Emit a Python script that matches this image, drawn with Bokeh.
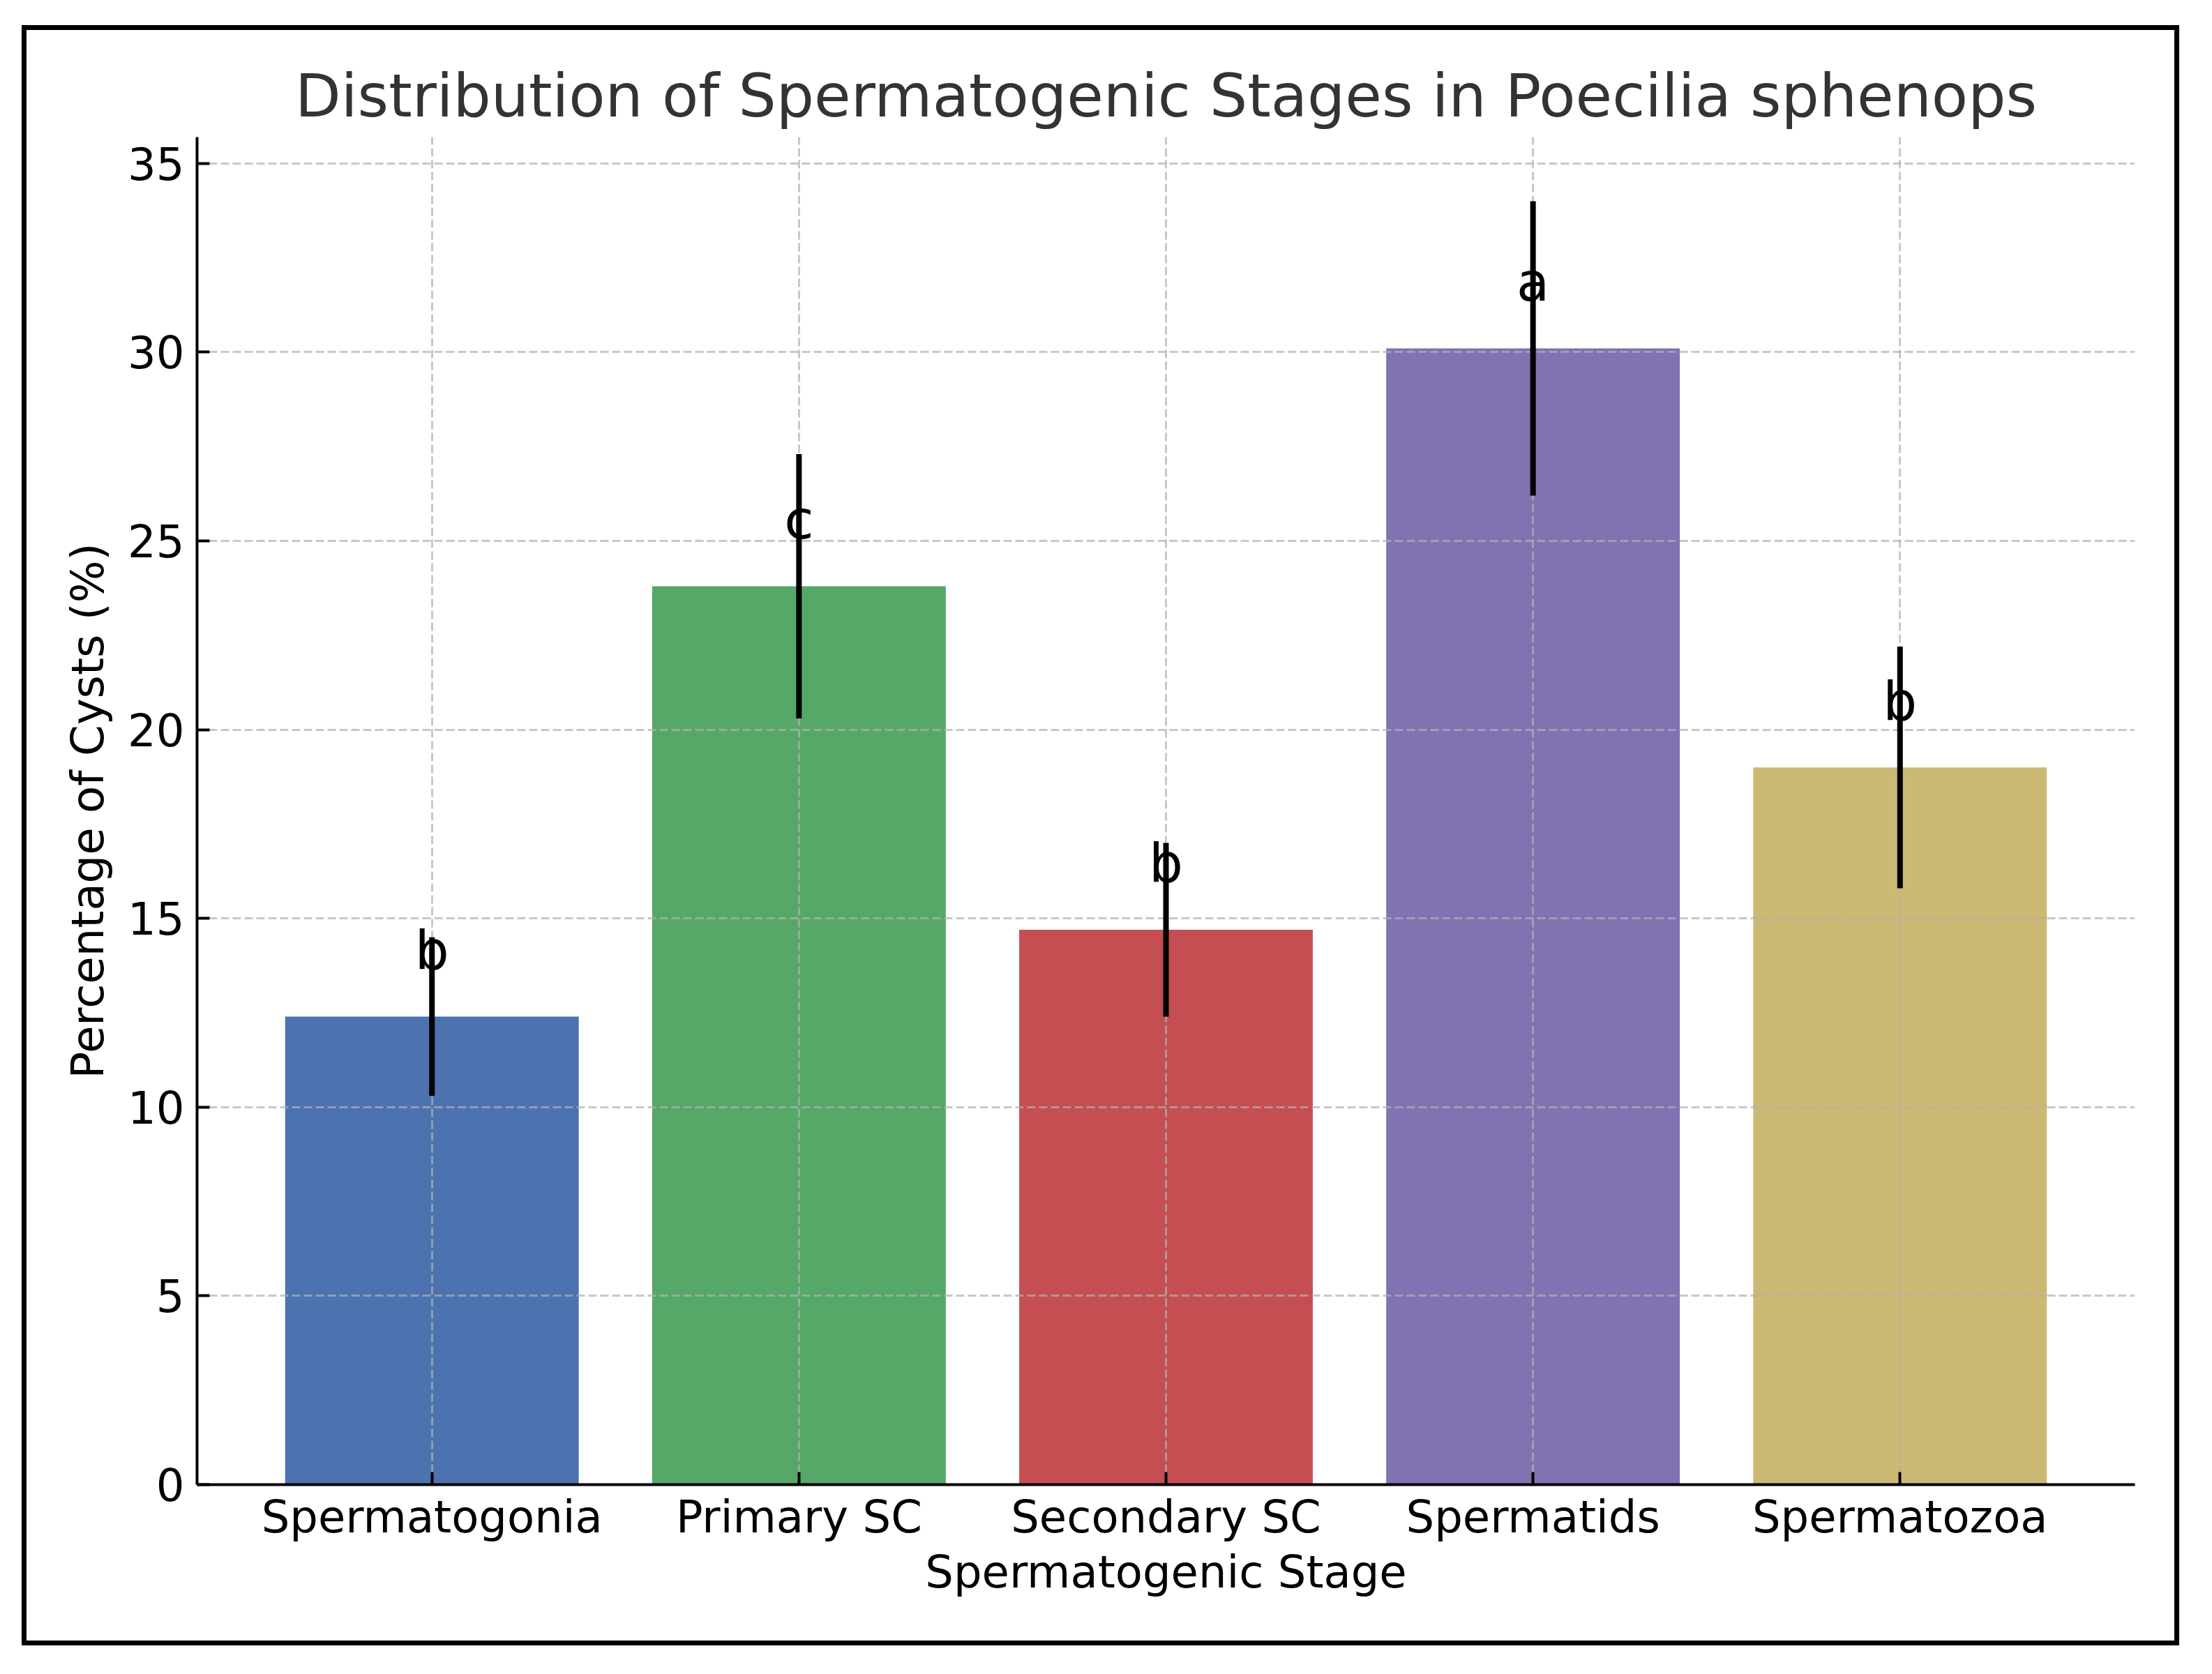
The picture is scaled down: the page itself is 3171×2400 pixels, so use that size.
from bokeh.plotting import figure
from bokeh.models import Range1d, FixedTicker, ColumnDataSource
from bokeh.core.properties import value
from bokeh.embed import file_html
from bokeh.resources import INLINE

# ---- data ----
stages = ["Spermatogonia", "Primary SC", "Secondary SC", "Spermatids", "Spermatozoa"]
percent = [12.4, 23.8, 14.7, 30.1, 19.0]
error = [2.1, 3.5, 2.3, 3.9, 3.2]
letters = ["b", "c", "b", "a", "b"]
colors = ["#4C72B0", "#55A868", "#C44E52", "#8172B2", "#CCB974"]
y_ticks = [0, 5, 10, 15, 20, 25, 30, 35]

FONT = "DejaVu Sans"
W, H = 3155, 2384

idx = list(range(len(stages)))
src = ColumnDataSource(dict(
    x=idx,
    top=percent,
    lo=[v - e for v, e in zip(percent, error)],
    hi=[v + e for v, e in zip(percent, error)],
    ly=[v + 1 for v in percent],
    letter=letters,
    color=colors,
))

ymax = max(v + e for v, e in zip(percent, error)) * 1.05
n = len(stages)
pad = 0.24

p = figure(width=W, height=H, output_backend="svg", toolbar_location=None,
           x_range=Range1d(-0.4 - pad, n - 1 + 0.4 + pad), y_range=Range1d(0, ymax),
           min_border_left=282, min_border_right=95, min_border_top=196, min_border_bottom=256,
           title="Distribution of Spermatogenic Stages in Poecilia sphenops")
p.outline_line_color = None
p.background_fill_color = "white"
p.border_fill_color = None

# outer black frame drawn as CSS background of the plot element
BX, BY, BW, BH, T = 31, 36, 3093, 2323, 7
p.styles = {
    "background-color": "white",
    "background-image": ", ".join(["linear-gradient(#000000, #000000)"] * 4),
    "background-position": f"{BX}px {BY}px, {BX}px {BY + BH - T}px, {BX}px {BY}px, {BX + BW - T}px {BY}px",
    "background-size": f"{BW}px {T}px, {BW}px {T}px, {T}px {BH}px, {T}px {BH}px",
    "background-repeat": "no-repeat",
}

p.title.align = "center"
p.title.text_font = FONT
p.title.text_font_size = "85.5px"
p.title.text_font_style = "normal"
p.title.text_color = "#333333"
p.title.standoff = 20

# bars (below grid)
p.vbar(x="x", top="top", bottom=0, width=0.8, fill_color="color", line_color=None,
       source=src, level="image")
# error bars
p.segment(x0="x", y0="lo", x1="x", y1="hi", line_width=8, line_color="black", source=src)
# significance letters
p.text(x="x", y="ly", text="letter", text_align="center", text_baseline="middle",
       y_offset=-41, text_font=value(FONT), text_font_size="77px", text_color="black",
       source=src)

# axes
p.xaxis.ticker = FixedTicker(ticks=idx)
p.xaxis.major_label_overrides = {i: s for i, s in zip(idx, stages)}
p.yaxis.ticker = FixedTicker(ticks=y_ticks)
p.xaxis.axis_label = "Spermatogenic Stage"
p.yaxis.axis_label = "Percentage of Cysts (%)"
for ax in (p.xaxis, p.yaxis):
    ax.axis_label_text_font = FONT
    ax.axis_label_text_font_size = "64px"
    ax.axis_label_text_font_style = "normal"
    ax.axis_label_text_color = "black"
    ax.major_label_text_font = FONT
    ax.major_label_text_font_size = "64px"
    ax.major_label_text_color = "black"
    ax.axis_line_color = "black"
    ax.axis_line_width = 4
    ax.major_tick_line_color = "black"
    ax.major_tick_line_width = 4
    ax.major_tick_in = 18
    ax.major_tick_out = 0
    ax.minor_tick_line_color = None
p.xaxis.major_label_standoff = 9
p.xaxis.axis_label_standoff = 2
p.yaxis.major_label_standoff = 18
p.yaxis.axis_label_standoff = 17

for g in (p.xgrid, p.ygrid):
    g.grid_line_color = "#b0b0b0"
    g.grid_line_alpha = 0.7
    g.grid_line_width = 3
    g.grid_line_dash = "12 5"
p.ygrid.ticker = FixedTicker(ticks=y_ticks)
p.xgrid.ticker = FixedTicker(ticks=idx)

open("out.html", "w").write(file_html(p, INLINE))
